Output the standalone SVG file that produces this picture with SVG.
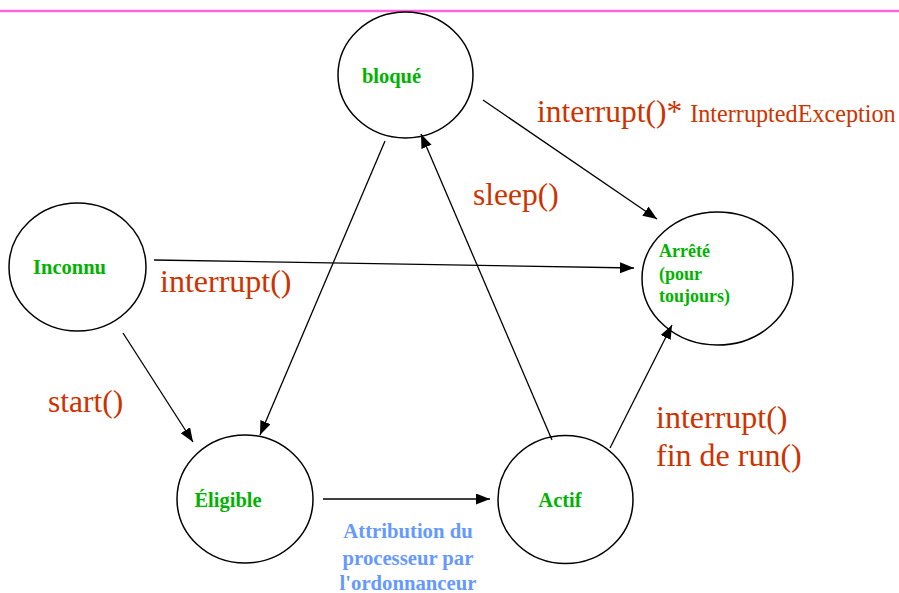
<svg xmlns="http://www.w3.org/2000/svg" width="899" height="593" viewBox="0 0 899 593">
<defs>
<marker id="arr" markerUnits="userSpaceOnUse" markerWidth="15" markerHeight="13" refX="14" refY="5.5" orient="auto">
<path d="M0,0 L14,5.5 L0,11 z" fill="#000"/>
</marker>
<style>
.st{fill:#fff;stroke:#000;stroke-width:1.5}
.nl{font-family:"Liberation Serif","Times New Roman",serif;font-weight:bold;fill:#00b300}
.lb{font-family:"Liberation Serif","Times New Roman",serif;fill:#cc3300}
.bl{font-family:"Liberation Serif","Times New Roman",serif;font-weight:bold;fill:#6699ff;font-size:20.7px}
.cn{stroke:#000;stroke-width:1.3;fill:none;marker-end:url(#arr)}
</style>
</defs>
<rect x="0" y="0" width="899" height="593" fill="#fff"/>
<line x1="0" y1="11" x2="899" y2="11" stroke="#ff66dd" stroke-width="2.5"/>
<g id="bloque"><ellipse class="st" cx="405.5" cy="75" rx="67.5" ry="63"/><text class="nl" x="391.5" y="83" font-size="20.5" text-anchor="middle">bloqué</text></g>
<g id="inconnu"><ellipse class="st" cx="77.5" cy="267" rx="68.5" ry="64"/><text class="nl" x="69.5" y="274" font-size="20.5" text-anchor="middle">Inconnu</text></g>
<g id="arrete"><ellipse class="st" cx="717.5" cy="278.5" rx="75.5" ry="66.5"/><text class="nl" font-size="18" x="659" y="257">Arrêté<tspan x="659" y="280">(pour</tspan><tspan x="659" y="302">toujours)</tspan></text></g>
<g id="eligible"><ellipse class="st" cx="245" cy="499" rx="68" ry="64"/><text class="nl" x="228" y="507" font-size="20.5" text-anchor="middle">Éligible</text></g>
<g id="actif"><ellipse class="st" cx="565.5" cy="499.5" rx="67.5" ry="64"/><text class="nl" x="560" y="507" font-size="20.5" text-anchor="middle">Actif</text></g>
<g id="connectors">
<line class="cn" x1="483" y1="100" x2="657" y2="219"/>
<line class="cn" x1="154" y1="260" x2="634" y2="268"/>
<line class="cn" x1="123" y1="333" x2="193" y2="442"/>
<line class="cn" x1="385" y1="141" x2="260" y2="435"/>
<line class="cn" x1="552" y1="440" x2="421" y2="134"/>
<line class="cn" x1="610" y1="448" x2="672" y2="325"/>
<line class="cn" x1="323" y1="499" x2="490" y2="499"/>
</g>
<g id="labels">
<text class="lb" x="537" y="122" font-size="31.5">interrupt()*<tspan font-size="24.2" dx="8">InterruptedException</tspan></text>
<text class="lb" x="473" y="205" font-size="31.5">sleep()</text>
<text class="lb" x="160" y="292" font-size="32">interrupt()</text>
<text class="lb" x="48" y="412" font-size="31.5">start()</text>
<text class="lb" x="656" y="428" font-size="32">interrupt()</text>
<text class="lb" x="656" y="466" font-size="32">fin de run()</text>
<text class="bl" x="408" y="538" text-anchor="middle">Attribution du</text>
<text class="bl" x="408" y="565" text-anchor="middle">processeur par</text>
<text class="bl" x="408" y="590" text-anchor="middle">l'ordonnanceur</text>
</g>
</svg>
